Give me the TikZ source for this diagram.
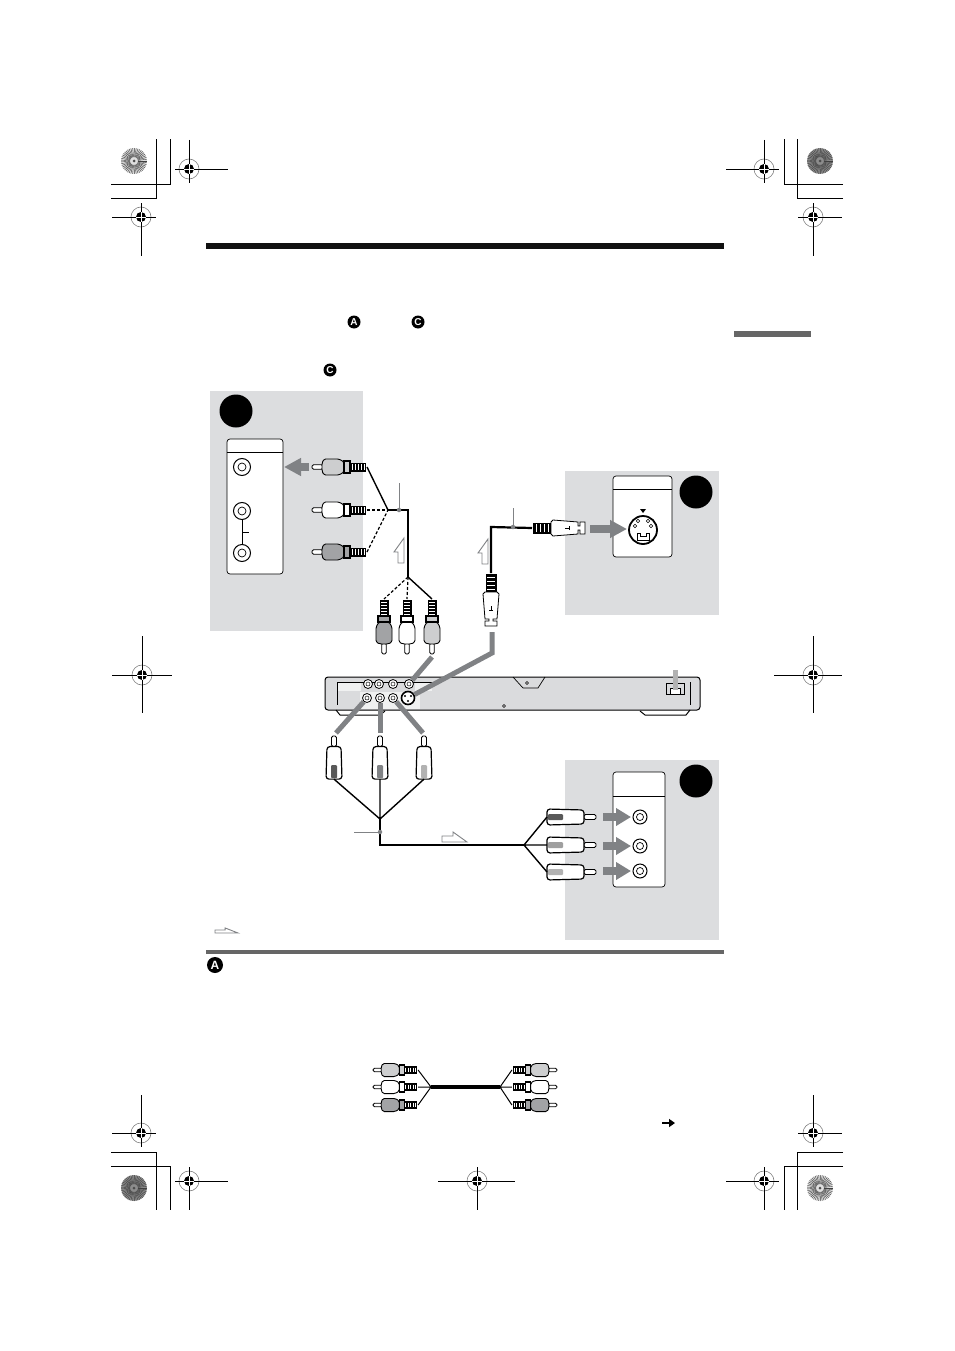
\documentclass[tikz,border=0pt]{standalone}
\usepackage{fontspec}
\setmainfont{Liberation Sans}
\usetikzlibrary{arrows.meta}
\definecolor{panelgray}{HTML}{DCDDDF}
\definecolor{linkgray}{HTML}{808285}
\definecolor{barblack}{HTML}{111111}
\definecolor{bargray}{HTML}{666666}
\definecolor{plugdark}{HTML}{A2A3A5}
\definecolor{pluglight}{HTML}{CDCECF}
\definecolor{deckgray}{HTML}{DADBDD}
\tikzset{
    panel/.style={fill=panelgray,draw=none},
    tvbox/.style={draw=black,line width=.7pt,fill=white,rounded corners=3pt},
    badge/.style={circle,fill=black,inner sep=0pt,minimum size=33pt},
    letterdot/.style={circle,fill=black,text=white,inner sep=0pt,minimum size=#1,font=\bfseries\fontsize{10}{10}\selectfont},
    jack/.style={circle,draw=black,line width=1pt,fill=white,inner sep=0pt,minimum size=#1},
    port/.style={circle,draw=black,line width=.8pt,fill=white,inner sep=0pt,minimum size=9pt},
    cable/.style={black,line width=1.4pt},
    fatcable/.style={black,line width=2.8pt},
    dashcable/.style={black,line width=1.2pt,dash pattern=on 3pt off 2pt},
    leader/.style={linkgray,line width=.8pt},
    leaddot/.style={circle,fill=linkgray,inner sep=0pt,minimum size=4.5pt},
    link/.style={linkgray,line width=5pt},
    flow/.style={linkgray,line width=8pt,-{Triangle[length=17pt,width=17pt]}},
    flowshort/.style={linkgray,line width=8pt,-{Triangle[length=15pt,width=17pt]}},
    pics/rcaplug/.style={code={
        \draw[fill=white,line width=.8pt,rounded corners=1.5pt] (0,-2.2) rectangle (11,2.2);
        \draw[fill=#1,line width=.9pt,rounded corners=1.5pt] (10,-4) -- (12,-8) -- (27,-8) -- (32,-5)
            -- (32,5) -- (27,8) -- (12,8) -- (10,4) -- cycle;
        \draw[fill=#1,line width=1.2pt] (32,-6) rectangle (38,6);
        \fill[black] (38,-4.5) rectangle (54,4.5);
        \foreach \s in {40,43,46,49,52}
        {
            \draw[white,line width=.8pt] (\s,-3) -- (\s,3);
        }
        \coordinate (-wire) at (55,0);
    }},
    pics/rcatip/.style={code={
        \draw[fill=white,line width=.9pt,rounded corners=1.5pt] (12,-2.5) rectangle (0,2.5);
        \draw[fill=white,line width=1.2pt,rounded corners=3pt] (12,-7) -- (49,-8) -- (49,8) -- (12,7) -- cycle;
        \fill[#1,rounded corners=1pt] (48,-3) rectangle (33,3);
        \coordinate (-wire) at (49,0);
    }},
    pics/splug/.style={code={
        \draw[fill=white,line width=.8pt] (0,-6) -- (5,-6) -- (5,-2) -- (7,-2) -- (7,-6) -- (32,-8) -- (34,-6)
            -- (34,6) -- (32,8) -- (7,6) -- (7,2) -- (5,2) -- (5,6) -- (0,6) -- cycle;
        \fill[black] (34,-5.5) rectangle (52,5.5);
        \foreach \s in {37,41,45,49}
        {
            \draw[white,line width=1pt] (\s,-4) -- (\s,4);
        }
        \draw[line width=.5pt] (16,0) -- (20,0) (16,-2) -- (16,2);
        \coordinate (-wire) at (53,0);
    }},
    pics/halfarrow/.style={code={
        \draw[linkgray,fill=white,line width=.9pt] (0,0) -- (25,0) -- (11,-10) -- (11,-6) -- (0,-6) -- cycle;
    }},
    pics/starburst/.style={code={
        \fill[#1] (0,0) circle (13pt);
        \foreach \a in {0,8,...,352}
        {
            \draw[black!75,line width=.4pt] (\a:4pt) -- (\a:13pt);
        }
        \fill[black!70] (0,0) circle (1.5pt);
    }}
}
\begin{document}
\begin{tikzpicture}[x=1pt,y=-1pt]
    \useasboundingbox (0,0) rectangle (954,1351);

    % page marks
    \foreach \cx/\cy/\l/\r/\u/\d in {189/169/14/39/29/14,141/217/29/15/14/39,764/169/38/15/29/14,813/217/15/29/14/39,
        142/675/30/30/39/38,813/675/39/29/39/38,141/1133/29/15/38/14,813/1133/15/29/38/14,
        189/1181/14/39/14/29,477/1181/39/38/14/29,764/1181/38/15/14/29}
    {
        \draw[gray,line width=.6pt] (\cx,\cy) circle (10pt);
        \draw[black,line width=.9pt] (\cx-\l,\cy) -- (\cx+\r,\cy) (\cx,\cy-\u) -- (\cx,\cy+\d);
        \fill[black] (\cx,\cy) circle (5pt);
        \draw[white,line width=.8pt] (\cx-5,\cy) -- (\cx+5,\cy) (\cx,\cy-5) -- (\cx,\cy+5);
    }
    \draw[line width=.9pt] (111,184) -- (170,184) -- (170,139) (111,198) -- (156,198) -- (156,139);
    \draw[line width=.9pt] (843,184) -- (784,184) -- (784,139) (843,198) -- (797,198) -- (797,139);
    \draw[line width=.9pt] (111,1152) -- (156,1152) -- (156,1210) (111,1166) -- (170,1166) -- (170,1210);
    \draw[line width=.9pt] (843,1152) -- (797,1152) -- (797,1210) (843,1166) -- (784,1166) -- (784,1210);
    \pic at (134,161) {starburst=gray!25};
    \pic at (820,161) {starburst=gray!90};
    \pic at (134,1188) {starburst=gray!90};
    \pic at (820,1188) {starburst=gray!25};

    % bars and bullets
    \fill[barblack] (206,243) rectangle (724,249);
    \fill[bargray] (734,331) rectangle (811,337);
    \fill[bargray] (206,950) rectangle (724,954);
    \node[letterdot=13pt] (dota) at (354,322) {A};
    \node[letterdot=13pt] (dotc) at (418,322) {C};
    \node[letterdot=13pt] (dotcc) at (330,370) {C};
    \node[letterdot=16pt] (dotaa) at (215,965) {\fontsize{12}{12}\selectfont A};

    % panels
    \fill[panel] (210,391) rectangle (363,631);
    \fill[panel] (565,471) rectangle (719,615);
    \fill[panel] (565,760) rectangle (719,940);
    \node[badge] (badgea) at (236,411) {};
    \node[badge] (badgeb) at (696,492) {};
    \node[badge] (badgec) at (696,781) {};

    % panel A sockets
    \draw[tvbox] (227,439) rectangle (283,574);
    \draw[line width=.7pt] (227,452) -- (283,452);
    \foreach \n/\y in {top/467,mid/511,low/553}
    {
        \node[jack=17pt] (tv\n) at (242,\y) {};
        \node[jack=8pt,line width=.7pt] at (tv\n) {};
    }
    \draw[line width=.7pt] (tvmid) -- (tvlow);
    \draw[line width=.7pt] (242,532) -- (249,532);

    % panel B socket
    \draw[tvbox] (613,476) rectangle (672,557);
    \draw[line width=.7pt] (613,489) -- (672,489);
    \node[jack=28pt,line width=1.8pt] (svideo) at (643,530) {};
    \fill[black] (640,509) -- (646,509) -- (643,513) -- cycle;
    \foreach \px/\py in {635/526,651/526,638/521,648/521}
    {
        \draw[line width=.6pt] (\px,\py) circle (1.7pt);
    }
    \draw[line width=.7pt] (637,533) -- (640,533) -- (640,536) -- (646,536) -- (646,533) -- (649,533)
        -- (649,540) -- (637,540) -- cycle;

    % panel C sockets
    \draw[tvbox] (613,772) rectangle (665,887);
    \draw[line width=.7pt] (613,796) -- (665,796);
    \foreach \n/\y in {one/817,two/846,three/871}
    {
        \node[jack=14pt] (in\n) at (640,\y) {};
        \node[jack=7pt,line width=.7pt] at (in\n) {};
    }

    % player
    \draw[fill=deckgray,line width=1pt,rounded corners=3pt] (325,677) -- (700,677) -- (700,710) -- (325,710) -- cycle;
    \draw[line width=1pt] (336,710) -- (340,715) -- (380,715) -- (385,711);
    \draw[line width=1pt] (640,711) -- (645,715) -- (686,715) -- (690,710);
    \draw[line width=.7pt] (513,677) -- (523,688) -- (538,688) -- (545,677);
    \draw[line width=.7pt] (337,682) -- (337,705) (690,682) -- (690,705);
    \draw[line width=.5pt] (527,683) circle (1.5pt) (504,706) circle (1.5pt);
    \fill[white!60!deckgray] (338,682) rectangle (361,691);
    \fill[white!60!deckgray] (415,682) rectangle (432,691);
    \fill[white!60!deckgray] (360,692) rectangle (420,709);
    \draw[line width=.5pt] (338,682) -- (432,682);
    \foreach \n/\x in {ta/368,tb/379,tc/393,td/409}
    {
        \node[port] (p\n) at (\x,684) {};
        \draw[line width=.5pt] (p\n) circle (2pt);
    }
    \foreach \n/\x in {ba/367,bb/380,bc/393}
    {
        \node[port] (p\n) at (\x,698) {};
        \draw[line width=.5pt] (p\n) circle (2pt);
    }
    \node[jack=13pt,line width=1.6pt] (psv) at (408,698) {};
    \foreach \px/\py in {405/696,411/696,408/701}
    {
        \fill[black] (\px,\py) circle (1.2pt);
    }
    \draw[line width=.9pt] (666,683) rectangle (684,694);
    \draw[line width=.7pt,fill=white] (670,688) rectangle (680,694);
    \draw[gray!60,line width=5pt] (675,670) -- (675,690);

    % cable to panel A
    \pic (tva) at (312,467) {rcaplug=pluglight};
    \pic (tvb) at (312,510) {rcaplug=white};
    \pic (tvc) at (312,552) {rcaplug=plugdark};
    \pic[rotate=90] (dka) at (384,654) {rcaplug=plugdark};
    \pic[rotate=90] (dkb) at (407,654) {rcaplug=white};
    \pic[rotate=90] (dkc) at (432,654) {rcaplug=pluglight};
    \coordinate (avleft) at (388,510);
    \coordinate (avcorner) at (408,510);
    \coordinate (avlow) at (408,577);
    \draw[cable] (tva-wire) -- (avleft);
    \draw[dashcable] (tvb-wire) -- (avleft);
    \draw[dashcable] (tvc-wire) -- (avleft);
    \draw[fatcable] (avleft) -- (avcorner) -- (avlow);
    \draw[dashcable] (avlow) -- (dka-wire);
    \draw[dashcable] (avlow) -- (dkb-wire);
    \draw[cable] (avlow) -- (dkc-wire);
    \node[leaddot] (avdot) at (399,510) {};
    \draw[leader] (399,483) -- (avdot);
    \pic[rotate=90] at (404,563) {halfarrow};

    % S video cable
    \pic[rotate=90] (sdk) at (491,626) {splug};
    \pic[rotate=180] (stv) at (585,528) {splug};
    \coordinate (scorner) at (491,527);
    \draw[fatcable,line width=2.2pt] (sdk-wire) -- (scorner) -- (stv-wire);
    \node[leaddot] (sdot) at (513,527) {};
    \draw[leader] (513,508) -- (sdot);
    \pic[rotate=90] at (488,564) {halfarrow};

    % component cable
    \pic[rotate=-90,xscale=.88] (cpa) at (334,736) {rcatip=black!65};
    \pic[rotate=-90,xscale=.88] (cpb) at (380,736) {rcatip=linkgray};
    \pic[rotate=-90,xscale=.88] (cpc) at (424,736) {rcatip=gray!60};
    \pic[rotate=180] (cta) at (596,817) {rcatip=black!65};
    \pic[rotate=180] (ctb) at (596,845) {rcatip=gray!75};
    \pic[rotate=180] (ctc) at (596,872) {rcatip=gray!60};
    \coordinate (cpjoin) at (380,819);
    \coordinate (cpcorner) at (380,845);
    \coordinate (ctjoin) at (524,845);
    \draw[cable] (cpa-wire) -- (cpjoin) -- (cpc-wire) (cpb-wire) -- (cpjoin);
    \draw[cable] (cpjoin) -- (cpcorner) -- (ctjoin);
    \draw[cable] (cta-wire) -- (ctjoin) -- (ctc-wire) (ctb-wire) -- (ctjoin);
    \node[leaddot] (cpdot) at (380,832) {};
    \draw[leader] (354,832) -- (cpdot);
    \pic at (442,842) {halfarrow};
    \pic[scale=.92,yscale=.55] at (215,933) {halfarrow};

    % links from plugs to player
    \draw[link] (432,657) -- (ptd);
    \draw[link] (492,632) -- (492,653) -- (psv);
    \draw[link] (pba) -- (336,733);
    \draw[link] (pbb) -- (380,733);
    \draw[link] (pbc) -- (423,733);

    % signal arrows
    \coordinate (fa) at (309,467);
    \coordinate (fb) at (590,529);
    \draw[flow] (fa) -- (284,467);
    \draw[flow] (fb) -- (627,529);
    \foreach \n/\y in {one/817,two/846,three/871}
    {
        \coordinate (f\n) at (603,\y);
        \draw[flowshort] (f\n) -- (631,\y);
    }

    % sample cable
    \pic[scale=.82] (sa) at (373,1070) {rcaplug=pluglight};
    \pic[scale=.82] (sb) at (373,1087) {rcaplug=white};
    \pic[scale=.82] (sc) at (373,1105) {rcaplug=plugdark};
    \pic[rotate=180,scale=.82] (sd) at (557,1070) {rcaplug=pluglight};
    \pic[rotate=180,scale=.82] (se) at (557,1087) {rcaplug=white};
    \pic[rotate=180,scale=.82] (sf) at (557,1105) {rcaplug=plugdark};
    \coordinate (sleft) at (431,1087);
    \coordinate (sright) at (500,1087);
    \draw[fatcable,line width=3.2pt] (sleft) -- (sright);
    \draw[cable,line width=1pt] (sa-wire) -- (sleft) -- (sc-wire) (sb-wire) -- (sleft);
    \draw[cable,line width=1pt] (sd-wire) -- (sright) -- (sf-wire) (se-wire) -- (sright);
    \coordinate (nexta) at (662,1123);
    \draw[black,line width=2.4pt,-{Triangle[length=6pt,width=8pt]}] (nexta) -- (675,1123);
\end{tikzpicture}
\end{document}
